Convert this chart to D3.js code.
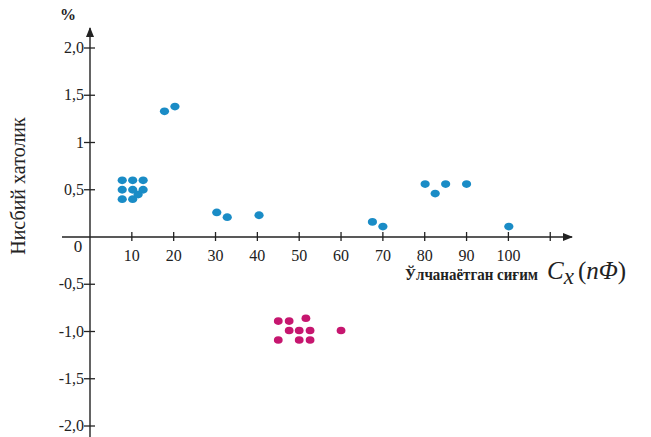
<!DOCTYPE html>
<html>
<head>
<meta charset="utf-8">
<script src="https://cdn.jsdelivr.net/npm/d3@7"></script>
<style>
  body { margin: 0; background: #fff; }
  svg text { font-family: 'Liberation Serif', 'Times New Roman', serif; fill: #222; }
</style>
</head>
<body>
<div id="chart"></div>
<script>
var svgWidth = 651;
var svgHeight = 437;

// blue series: measured capacitance (nF) and relative error (%)
var blueX = [7.7, 10.2, 12.7, 7.7, 10.2, 12.7, 7.7, 10.2, 11.5, 17.8, 20.3, 30.3, 32.8, 40.4, 67.5, 70.0, 80.1, 82.5, 85.0, 90.0, 100.1];
var blueY = [0.6, 0.6, 0.6, 0.5, 0.5, 0.5, 0.4, 0.4, 0.45, 1.33, 1.38, 0.26, 0.21, 0.23, 0.16, 0.11, 0.56, 0.46, 0.56, 0.56, 0.11];

// magenta series
var pinkX = [45.0, 47.6, 51.6, 47.6, 50.0, 52.6, 60.0, 45.0, 50.0, 52.6];
var pinkY = [-0.89, -0.89, -0.86, -0.99, -0.99, -0.99, -0.99, -1.09, -1.09, -1.09];

var xTicks = [10, 20, 30, 40, 50, 60, 70, 80, 90, 100, 110];
var xTickLabels = ["10", "20", "30", "40", "50", "60", "70", "80", "90", "100", ""];
var yTicks = [2, 1.5, 1, 0.5, -0.5, -1, -1.5, -2];
var yTickLabels = ["2,0", "1,5", "1", "0,5", "-0,5", "-1,0", "-1,5", "-2,0"];

var svg = d3.select("#chart")
  .append("svg")
  .attr("width", svgWidth)
  .attr("height", svgHeight)
  .attr("font-family", "Liberation Serif");

var x = d3.scaleLinear().domain([0, 100]).range([90, 508.4]);
var y = d3.scaleLinear().domain([-2, 2]).range([426, 48]);

var x0 = x(0), y0 = y(0);

svg.append("defs").append("marker")
  .attr("id", "arrow")
  .attr("viewBox", "0 0 10 10")
  .attr("refX", 9).attr("refY", 5)
  .attr("markerWidth", 10).attr("markerHeight", 10)
  .attr("markerUnits", "userSpaceOnUse")
  .attr("orient", "auto")
  .append("path")
  .attr("d", "M0,1 L10,5 L0,9 Z")
  .attr("fill", "#222");

// axes lines
svg.append("line")
  .attr("x1", 62).attr("y1", y0)
  .attr("x2", 572).attr("y2", y0)
  .attr("stroke", "#222").attr("stroke-width", 1.4)
  .attr("marker-end", "url(#arrow)");

svg.append("line")
  .attr("x1", x0).attr("y1", 437)
  .attr("x2", x0).attr("y2", 28)
  .attr("stroke", "#222").attr("stroke-width", 1.4)
  .attr("marker-end", "url(#arrow)");

// x ticks
var xt = svg.selectAll(".xtick").data(xTicks).enter().append("g")
  .attr("transform", d => `translate(${x(d)},${y0})`);
xt.append("line").attr("y1", -5).attr("y2", 4).attr("stroke", "#222").attr("stroke-width", 1.3);
xt.append("text")
  .attr("y", 24)
  .attr("text-anchor", "middle")
  .style("font-size", "16px")
  .text((d, i) => xTickLabels[i]);

// y ticks
var yt = svg.selectAll(".ytick").data(yTicks).enter().append("g")
  .attr("transform", d => `translate(${x0},${y(d)})`);
yt.append("line").attr("x1", -6).attr("x2", 5).attr("stroke", "#222").attr("stroke-width", 1.3);
yt.append("text")
  .attr("x", -6)
  .attr("y", 5)
  .attr("text-anchor", "end")
  .style("font-size", "16px")
  .text((d, i) => yTickLabels[i]);

svg.append("text")
  .attr("x", 78).attr("y", 252)
  .attr("text-anchor", "middle")
  .style("font-size", "17px")
  .text("0");

// labels
svg.append("text")
  .attr("x", 68).attr("y", 20)
  .attr("text-anchor", "middle")
  .style("font-size", "16px")
  .style("font-weight", "bold")
  .text("%");

svg.append("text")
  .attr("transform", "translate(25,186) rotate(-90)")
  .attr("text-anchor", "middle")
  .style("font-size", "20px")
  .text("Нисбий хатолик");

svg.append("text")
  .attr("x", 405).attr("y", 280)
  .attr("textLength", 133)
  .attr("lengthAdjust", "spacingAndGlyphs")
  .style("font-size", "16px")
  .style("font-weight", "bold")
  .text("Ўлчанаётган сиғим");

var cx = svg.append("text")
  .attr("x", 547).attr("y", 279)
  .style("font-size", "25px")
  .style("font-style", "italic");
cx.append("tspan").text("C");
cx.append("tspan").attr("dy", 5).style("font-size", "23px").text("x");
cx.append("tspan").attr("dy", -5).attr("dx", 4).style("font-style", "normal").text("(");
cx.append("tspan").text("nΦ");
cx.append("tspan").style("font-style", "normal").text(")");

// points
svg.selectAll(".blue").data(blueX).enter().append("ellipse")
  .attr("cx", (d, i) => x(d))
  .attr("cy", (d, i) => y(blueY[i]))
  .attr("rx", 4.6).attr("ry", 3.9)
  .attr("fill", "#1a8cc6");

svg.selectAll(".pink").data(pinkX).enter().append("ellipse")
  .attr("cx", (d, i) => x(d))
  .attr("cy", (d, i) => y(pinkY[i]))
  .attr("rx", 4.4).attr("ry", 3.8)
  .attr("fill", "#c6166f");
</script>
</body>
</html>
